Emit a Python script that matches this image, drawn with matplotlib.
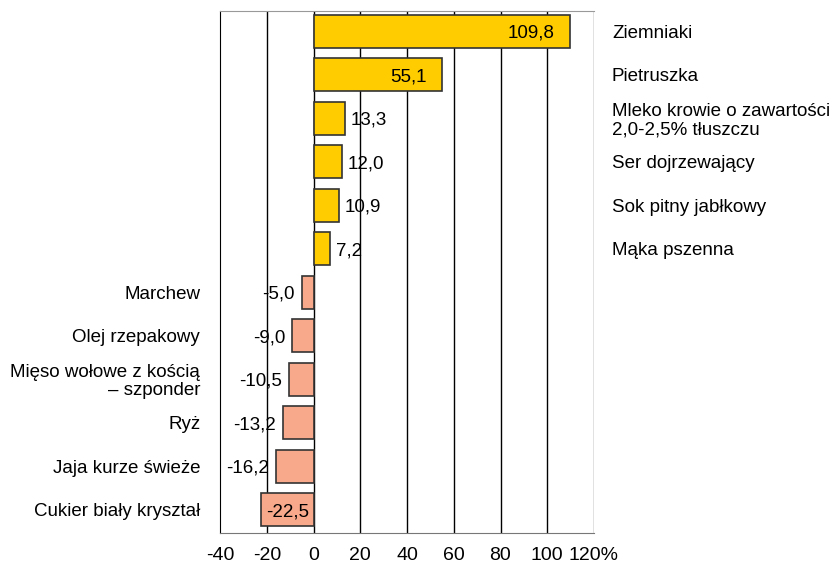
import matplotlib.pyplot as plt
import numpy as np

plt.rcParams['font.family'] = ['Liberation Sans', 'DejaVu Sans']

# dane
kategorie = ['Ziemniaki', 'Pietruszka', 'Mleko krowie o zawartości\n2,0-2,5% tłuszczu',
             'Ser dojrzewający', 'Sok pitny jabłkowy', 'Mąka pszenna',
             'Marchew', 'Olej rzepakowy', 'Mięso wołowe z kością\n– szponder',
             'Ryż', 'Jaja kurze świeże', 'Cukier biały kryształ']
wartosci = [109.8, 55.1, 13.3, 12.0, 10.9, 7.2,
            -5.0, -9.0, -10.5, -13.2, -16.2, -22.5]
ticki = [-40, -20, 0, 20, 40, 60, 80, 100, 120]
tick_etykiety = ['-40', '-20', '0', '20', '40', '60', '80', '100', '120%']

kol_plus = '#FFCC00'
kol_minus = '#F9A98B'
fs = 13.5
dy = -2  # lekkie przesuniecie tekstu w dol

fig = plt.figure(figsize=(8.32, 5.65), dpi=100)
ax = fig.add_axes([220/832, 1-533/565, 374/832, 522/565])

n = len(wartosci)
y = np.arange(n)
kolory = [kol_plus if v > 0 else kol_minus for v in wartosci]
ax.barh(y, wartosci, height=0.76, color=kolory, edgecolor='#333333',
        linewidth=1.2, zorder=3)

ax.set_xlim(-40, 120)
ax.set_ylim(n - 0.47, -0.47)
ax.set_xticks(ticki)
ax.set_xticklabels(tick_etykiety, fontsize=14)
ax.set_yticks([])
ax.tick_params(axis='x', length=0, pad=10)
for t in ticki[1:-1]:
    ax.axvline(t, color='black', lw=1, zorder=1)
ax.axvline(120, color='#666666', lw=1, zorder=1)
ax.spines['left'].set_color('black')
ax.spines['right'].set_visible(False)
ax.spines['top'].set_color('#999999')
ax.spines['bottom'].set_color('#777777')

tr = ax.get_yaxis_transform()
for i, (k, v) in enumerate(zip(kategorie, wartosci)):
    txt = ('%.1f' % v).replace('.', ',')
    if v > 0:
        ax.annotate(k, (1.048, i), xycoords=tr, xytext=(0, dy),
                    textcoords='offset pixels', ha='left', va='center',
                    fontsize=fs, linespacing=1.1, annotation_clip=False)
        if v > 40:
            ax.annotate(txt, (v, i), xytext=(-16, dy), textcoords='offset pixels',
                        ha='right', va='center', fontsize=fs, zorder=4)
        else:
            ax.annotate(txt, (v, i), xytext=(6, dy), textcoords='offset pixels',
                        ha='left', va='center', fontsize=fs, zorder=4)
    else:
        ax.annotate(k, (-0.053, i), xycoords=tr, xytext=(0, dy),
                    textcoords='offset pixels', ha='right', va='center',
                    fontsize=fs, linespacing=1.1, annotation_clip=False)
        if v < -20:
            ax.annotate(txt, (v, i), xytext=(5, dy), textcoords='offset pixels',
                        ha='left', va='center', fontsize=fs, zorder=4)
        else:
            ax.annotate(txt, (v, i), xytext=(-7, dy), textcoords='offset pixels',
                        ha='right', va='center', fontsize=fs, zorder=4)

fig.savefig('out.png', dpi=100)
